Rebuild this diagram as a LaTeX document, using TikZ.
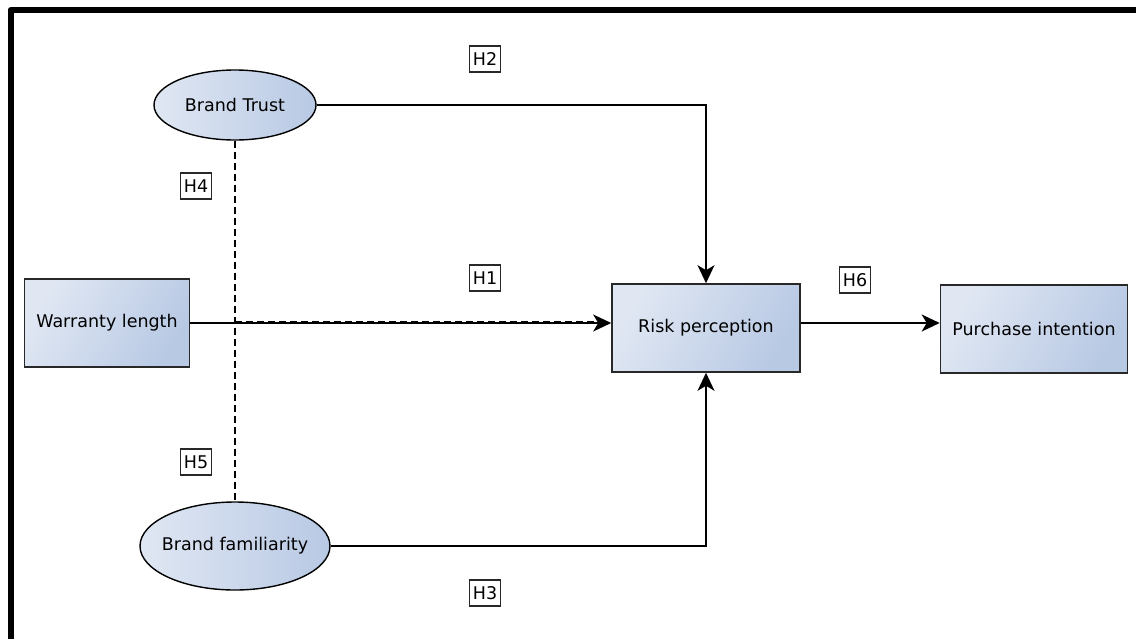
\documentclass[tikz,border=0pt]{standalone}
\usepackage{fontspec}
\setmainfont{DejaVu Sans}
\usetikzlibrary{arrows.meta,shapes.geometric}
\definecolor{fillL}{RGB}{224,231,243}
\definecolor{fillR}{RGB}{184,201,228}
\definecolor{edge}{RGB}{40,40,40}
\tikzset{
  conbox/.style={draw=edge, line width=1.6pt, left color=fillL, right color=fillR, shading angle=60,
    minimum width=#1, minimum height=88pt, inner sep=0pt, font=\fontsize{17.5}{20}\selectfont},
  conell/.style={ellipse, draw=black, line width=1.4pt, left color=fillL, right color=fillR,
    inner sep=0pt, font=\fontsize{17.5}{20}\selectfont},
  hyp/.style={draw=edge, line width=1.3pt, fill=white, minimum width=31pt, minimum height=26pt,
    inner sep=1pt, font=\fontsize{17.5}{20}\selectfont},
  link/.style={line width=1.5pt, draw=black},
  tip/.style={-{Stealth[length=18pt,width=17pt,inset=5pt]}},
  dashlink/.style={line width=1.5pt, draw=black, dash pattern=on 7pt off 4pt}
}
\begin{document}
\begin{tikzpicture}[x=1pt,y=-1pt]
\useasboundingbox (0,0) rectangle (1136,638);
\draw[line width=6pt, line join=round] (10.5,645) -- (10.5,10) -- (1145,10);

\node[conell, minimum width=162pt, minimum height=70pt] (BT) at (235,105) {\makebox[0pt]{Brand Trust}};
\node[conell, minimum width=190pt, minimum height=88pt] (BF) at (235,546) {\makebox[0pt]{Brand familiarity}};
\node[conbox=165pt] (WL) at (107,323) {Warranty length};
\node[conbox=188pt] (RP) at (706,328) {Risk perception};
\node[conbox=187pt] (PI) at (1034,329) {Purchase intention};

\coordinate (J) at (BT.south |- WL.east);

\draw[dashlink] (BT.south) -- (BF.north);
\draw[link, tip] (WL.east) -- (WL.east -| RP.west);
\draw[dashlink, line width=2.4pt] ([yshift=0.6pt]J) -- ([xshift=-14pt,yshift=0.6pt]WL.east -| RP.west);
\draw[link, tip] (BT.east) -| (RP.north);
\draw[link, tip] (BF.east) -| (RP.south);
\draw[link, tip] (RP.east |- WL.east) -- (PI.west |- WL.east);

\node[hyp] (H2) at (485,59) {H2};
\node[hyp] (H4) at (196,186) {H4};
\node[hyp] (H1) at (485,278) {H1};
\node[hyp] (H6) at (855,280) {H6};
\node[hyp] (H5) at (196,462) {H5};
\node[hyp] (H3) at (485,593) {H3};
\end{tikzpicture}
\end{document}
